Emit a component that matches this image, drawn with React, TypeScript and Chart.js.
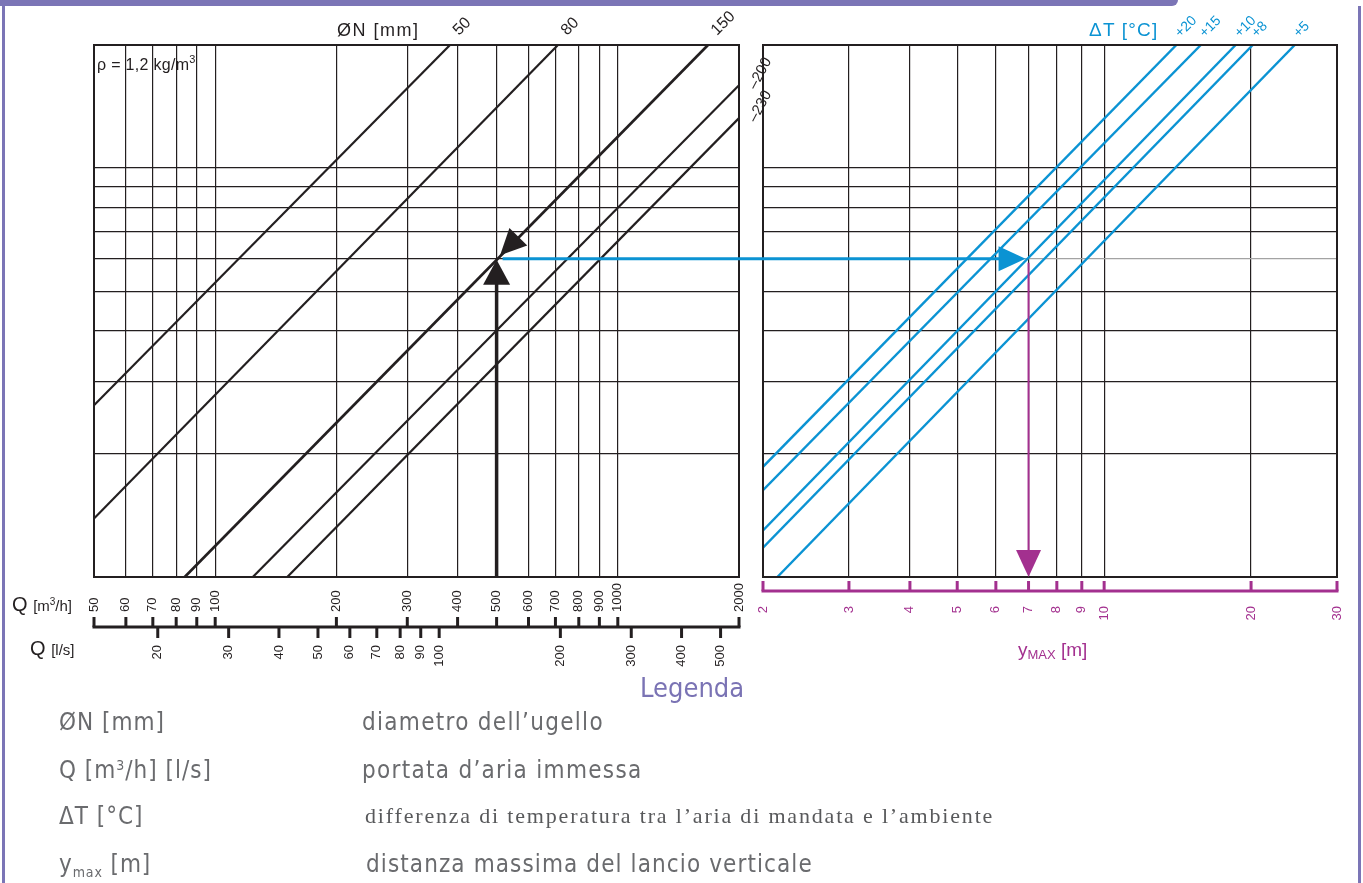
import React, { useEffect, useRef } from 'react';
import { Chart, registerables } from 'chart.js';

Chart.register(...registerables);

const INK = '#231f20';
const BLUE = '#0b93d3';
const MAGENTA = '#a3308f';
const PURPLE = '#7b75b6';
const GREY_TEXT = '#6a6b6e';

// ---- data ----
const qM3hTicks = [50, 60, 70, 80, 90, 100, 200, 300, 400, 500, 600, 700, 800, 900, 1000, 2000];
const qLsTicks = [20, 30, 40, 50, 60, 70, 80, 90, 100, 200, 300, 400, 500];
const yGridValues = [1, 2, 3, 4, 5, 6, 7, 8, 9, 10, 20];
const ymaxTicks = [2, 3, 4, 5, 6, 7, 8, 9, 10, 20, 30];

const diameterLabels = ['50', '80', '150', '200', '230'];
const diameterStartQ = [50, 50, 84, 124, 151];
const diameterStartY = [2.63, 1.39, 1, 1, 1];
const diameterEndQ = [383, 710, 1675, 2000, 2000];
const diameterEndY = [20, 20, 20, 15.95, 13.25];

const deltaTLabels = ['+20', '+15', '+10', '+8', '+5'];
const deltaTStartYmax = [2, 2, 2, 2, 2.14];
const deltaTStartY = [1.86, 1.63, 1.3, 1.18, 1];
const deltaTEndYmax = [14.06, 15.78, 18.6, 20.16, 24.58];
const deltaTEndY = [20, 20, 20, 20, 20];

const exampleQ = 500;
const exampleY = 6;
const exampleYmax = 7;

// ---- helpers ----
function drawRot(ctx: CanvasRenderingContext2D, text: string, x: number, y: number, angle: number, align: CanvasTextAlign, baseline: CanvasTextBaseline) {
  ctx.save();
  ctx.translate(x, y);
  ctx.rotate(angle);
  ctx.textAlign = align;
  ctx.textBaseline = baseline;
  ctx.fillText(text, 0, 0);
  ctx.restore();
}

function arrowHead(ctx: CanvasRenderingContext2D, tx: number, ty: number, dx: number, dy: number, len: number, half: number, color: string) {
  const n = Math.hypot(dx, dy);
  const ux = dx / n, uy = dy / n;
  const bx = tx - ux * len, by = ty - uy * len;
  ctx.beginPath();
  ctx.moveTo(tx, ty);
  ctx.lineTo(bx - uy * half, by + ux * half);
  ctx.lineTo(bx + uy * half, by - ux * half);
  ctx.closePath();
  ctx.fillStyle = color;
  ctx.fill();
}

function yScale(gridColor: (v: number) => string) {
  return {
    type: 'logarithmic' as const,
    min: 1,
    max: 20,
    afterBuildTicks: (s: any) => { s.ticks = yGridValues.map((v) => ({ value: v })); },
    afterFit: (s: any) => { s.width = 0; },
    ticks: { display: false },
    border: { display: false },
    grid: { color: (c: any) => gridColor(c.tick ? c.tick.value : 0), lineWidth: 1.2, drawTicks: false },
  };
}

const SANS = '"Liberation Sans", Arial, sans-serif';

const leftPlugin = {
  id: 'leftDecor',
  afterDatasetsDraw(chart: any) {
    const { ctx, chartArea: a } = chart;
    const x = chart.scales.x, y = chart.scales.y;
    ctx.save();
    // frame
    ctx.strokeStyle = INK;
    ctx.lineWidth = 2;
    ctx.strokeRect(a.left, a.top, a.right - a.left, a.bottom - a.top);

    // Q axis
    const axisY = a.bottom + 50;
    ctx.lineWidth = 3;
    ctx.beginPath();
    ctx.moveTo(x.getPixelForValue(qM3hTicks[0]) - 1.5, axisY);
    ctx.lineTo(x.getPixelForValue(qM3hTicks[qM3hTicks.length - 1]) + 1.5, axisY);
    ctx.stroke();
    ctx.fillStyle = INK;
    ctx.font = '13px ' + SANS;
    qM3hTicks.forEach((v) => {
      const px = x.getPixelForValue(v);
      ctx.beginPath();
      ctx.moveTo(px, axisY - 10);
      ctx.lineTo(px, axisY);
      ctx.stroke();
      drawRot(ctx, String(v), px, axisY - 15, -Math.PI / 2, 'left', 'middle');
    });
    qLsTicks.forEach((v) => {
      const px = x.getPixelForValue(v * 3.6);
      ctx.beginPath();
      ctx.moveTo(px, axisY);
      ctx.lineTo(px, axisY + 11);
      ctx.stroke();
      drawRot(ctx, String(v), px, axisY + 18, -Math.PI / 2, 'right', 'middle');
    });

    // diameter labels
    diameterLabels.forEach((lab, i) => {
      const ex = x.getPixelForValue(diameterEndQ[i]);
      const ey = y.getPixelForValue(diameterEndY[i]);
      if (diameterEndY[i] >= 20) {
        ctx.font = '16px ' + SANS;
        drawRot(ctx, lab, ex + 9, ey - 9, -Math.PI / 4, 'left', 'alphabetic');
      } else {
        ctx.font = '15px ' + SANS;
        drawRot(ctx, '\u2013' + lab, ex + 17, ey + 5, -1.08, 'left', 'alphabetic');
      }
    });

    // example: vertical arrow up to the ØN line
    const qx = x.getPixelForValue(exampleQ);
    const iy = y.getPixelForValue(exampleY);
    ctx.lineWidth = 3.5;
    ctx.beginPath();
    ctx.moveTo(qx, a.bottom);
    ctx.lineTo(qx, iy + 20);
    ctx.stroke();
    arrowHead(ctx, qx, iy + 1, 0, -1, 25, 13.5, INK);

    // diagonal arrow head on the 150 line
    const ci = 2;
    const sx = x.getPixelForValue(diameterStartQ[ci]);
    const sy = y.getPixelForValue(diameterStartY[ci]);
    const ex2 = x.getPixelForValue(diameterEndQ[ci]);
    const ey2 = y.getPixelForValue(diameterEndY[ci]);
    const dx = sx - ex2, dy = sy - ey2;
    const n = Math.hypot(dx, dy);
    arrowHead(ctx, qx - (dx / n) * 5, iy - (dy / n) * 5, dx, dy, 26, 12.5, INK);
    ctx.restore();
  },
};

function makeRightPlugin(getLeft: () => any) {
  return {
    id: 'rightDecor',
    afterDatasetsDraw(chart: any) {
      const { ctx, chartArea: a } = chart;
      const x = chart.scales.x, y = chart.scales.y;
      ctx.save();
      ctx.strokeStyle = INK;
      ctx.lineWidth = 2;
      ctx.strokeRect(a.left, a.top, a.right - a.left, a.bottom - a.top);

      // ymax axis
      const axisY = a.bottom + 14;
      ctx.strokeStyle = MAGENTA;
      ctx.fillStyle = MAGENTA;
      ctx.lineWidth = 3;
      ctx.beginPath();
      ctx.moveTo(x.getPixelForValue(ymaxTicks[0]) - 1.5, axisY);
      ctx.lineTo(x.getPixelForValue(ymaxTicks[ymaxTicks.length - 1]) + 1.5, axisY);
      ctx.stroke();
      ctx.font = '13px ' + SANS;
      ymaxTicks.forEach((v) => {
        const px = x.getPixelForValue(v);
        ctx.beginPath();
        ctx.moveTo(px, axisY - 10);
        ctx.lineTo(px, axisY);
        ctx.stroke();
        drawRot(ctx, String(v), px, axisY + 15, -Math.PI / 2, 'right', 'middle');
      });

      // ΔT labels
      ctx.fillStyle = BLUE;
      ctx.font = '14px ' + SANS;
      deltaTLabels.forEach((lab, i) => {
        const ex = x.getPixelForValue(deltaTEndYmax[i]);
        const ey = y.getPixelForValue(deltaTEndY[i]);
        drawRot(ctx, lab, ex + 4, ey - 7, -Math.PI / 4, 'left', 'alphabetic');
      });

      // blue horizontal arrow
      const left = getLeft();
      const iy = y.getPixelForValue(exampleY);
      const startX = left ? left.scales.x.getPixelForValue(exampleQ) + 6 : a.left;
      const tipX = x.getPixelForValue(exampleYmax) - 3;
      ctx.strokeStyle = BLUE;
      ctx.lineWidth = 3;
      ctx.beginPath();
      ctx.moveTo(startX, iy);
      ctx.lineTo(tipX - 20, iy);
      ctx.stroke();
      arrowHead(ctx, tipX, iy, 1, 0, 27, 12.5, BLUE);

      // magenta vertical arrow
      const mx = x.getPixelForValue(exampleYmax);
      ctx.strokeStyle = MAGENTA;
      ctx.lineWidth = 2;
      ctx.beginPath();
      ctx.moveTo(mx, iy + 4);
      ctx.lineTo(mx, a.bottom - 20);
      ctx.stroke();
      arrowHead(ctx, mx, a.bottom, 0, 1, 27, 12.5, MAGENTA);
      ctx.restore();
    },
  };
}

const T = ({ x, b, size, family, color, children, style }: any) => (
  <div
    style={{
      position: 'absolute',
      left: x,
      top: b - size * 0.85,
      fontSize: size,
      lineHeight: `${size}px`,
      fontFamily: family || SANS,
      color: color || INK,
      whiteSpace: 'nowrap',
      ...style,
    }}
  >
    {children}
  </div>
);

const sup = (size: number, up: number) => ({ fontSize: size, position: 'relative' as const, top: -up, lineHeight: 0 });

const NARROW = '"Liberation Sans Narrow", "DejaVu Sans Condensed", sans-serif';
const SERIF = '"Liberation Serif", "Times New Roman", serif';

export default function App() {
  const leftRef = useRef<HTMLCanvasElement>(null);
  const rightRef = useRef<HTMLCanvasElement>(null);

  useEffect(() => {
    const left = new Chart(leftRef.current as HTMLCanvasElement, {
      type: 'scatter',
      data: {
        datasets: diameterLabels.map((lab, i) => ({
          label: 'ØN ' + lab,
          data: [
            { x: diameterStartQ[i], y: diameterStartY[i] },
            { x: diameterEndQ[i], y: diameterEndY[i] },
          ],
          showLine: true,
          borderColor: INK,
          borderWidth: i === 2 ? 2.7 : 2.2,
          pointRadius: 0,
        })),
      },
      options: {
        responsive: false,
        animation: false,
        events: [],
        layout: { padding: { left: 94, top: 45, right: 1363 - 739, bottom: 883 - 577 } },
        plugins: { legend: { display: false }, tooltip: { enabled: false } },
        scales: {
          x: {
            type: 'logarithmic',
            min: 50,
            max: 2000,
            afterBuildTicks: (s: any) => { s.ticks = qM3hTicks.map((v) => ({ value: v })); },
            afterFit: (s: any) => { s.height = 0; },
            ticks: { display: false },
            border: { display: false },
            grid: { color: INK, lineWidth: 1.2, drawTicks: false },
          },
          y: yScale(() => INK) as any,
        },
      },
      plugins: [leftPlugin],
    } as any);

    const right = new Chart(rightRef.current as HTMLCanvasElement, {
      type: 'scatter',
      data: {
        datasets: deltaTLabels.map((lab, i) => ({
          label: 'ΔT ' + lab,
          data: [
            { x: deltaTStartYmax[i], y: deltaTStartY[i] },
            { x: deltaTEndYmax[i], y: deltaTEndY[i] },
          ],
          showLine: true,
          borderColor: BLUE,
          borderWidth: 2.4,
          pointRadius: 0,
        })),
      },
      options: {
        responsive: false,
        animation: false,
        events: [],
        layout: { padding: { left: 763, top: 45, right: 1363 - 1337, bottom: 883 - 577 } },
        plugins: { legend: { display: false }, tooltip: { enabled: false } },
        scales: {
          x: {
            type: 'logarithmic',
            min: 2,
            max: 30,
            afterBuildTicks: (s: any) => { s.ticks = ymaxTicks.map((v) => ({ value: v })); },
            afterFit: (s: any) => { s.height = 0; },
            ticks: { display: false },
            border: { display: false },
            grid: { color: INK, lineWidth: 1.2, drawTicks: false },
          },
          y: yScale((v) => (v === exampleY ? '#a3a3a3' : INK)) as any,
        },
      },
      plugins: [makeRightPlugin(() => left)],
    } as any);

    return () => {
      right.destroy();
      left.destroy();
    };
  }, []);

  return (
    <div style={{ position: 'fixed', left: 0, top: 0, width: 1363, height: 883, background: '#fff', overflow: 'hidden' }}>
      {/* frame */}
      <div style={{ position: 'absolute', left: 0, top: 0, width: 1178, height: 6, background: PURPLE, borderBottomRightRadius: 10 }} />
      <div style={{ position: 'absolute', left: 2, top: 0, width: 3, height: 883, background: PURPLE }} />
      <div style={{ position: 'absolute', left: 1358, top: 6, width: 3, height: 877, background: PURPLE }} />

      <canvas ref={leftRef} width={1363} height={883} style={{ position: 'absolute', left: 0, top: 0 }} />
      <canvas ref={rightRef} width={1363} height={883} style={{ position: 'absolute', left: 0, top: 0 }} />

      {/* chart titles */}
      <T x={337} b={36} size={18} style={{ letterSpacing: 1.5 }}>ØN [mm]</T>
      <T x={97} b={71} size={16} style={{ letterSpacing: 0.3 }}>
        ρ = 1,2 kg/m<span style={sup(11, 7)}>3</span>
      </T>
      <T x={12} b={611} size={20}>
        Q <span style={{ fontSize: 15 }}>[m<span style={sup(10, 6)}>3</span>/h]</span>
      </T>
      <T x={30} b={655} size={20}>
        Q <span style={{ fontSize: 15 }}>[l/s]</span>
      </T>
      <T x={1089} b={36} size={19} color={BLUE} style={{ letterSpacing: 1.2 }}>ΔT [°C]</T>
      <T x={1018} b={656} size={19} color={MAGENTA}>
        y<span style={{ fontSize: 13, position: 'relative', top: 3 }}>MAX</span> [m]
      </T>

      {/* legend */}
      <T x={640} b={697} size={27} family={NARROW} color={'#7a73b4'}>Legenda</T>

      <T x={59} b={730} size={24} family={NARROW} color={GREY_TEXT} style={{ letterSpacing: 1 }}>ØN [mm]</T>
      <T x={362} b={730} size={24} family={NARROW} color={GREY_TEXT} style={{ letterSpacing: 1.3 }}>diametro dell’ugello</T>

      <T x={59} b={778} size={24} family={NARROW} color={GREY_TEXT} style={{ letterSpacing: 1 }}>
        Q [m<span style={sup(14, 8)}>3</span>/h] [l/s]
      </T>
      <T x={362} b={778} size={24} family={NARROW} color={GREY_TEXT} style={{ letterSpacing: 1.3 }}>portata d’aria immessa</T>

      <T x={59} b={824} size={24} family={NARROW} color={GREY_TEXT} style={{ letterSpacing: 1 }}>ΔT [°C]</T>
      <T x={365} b={824} size={22} family={SERIF} color={'#58595b'} style={{ letterSpacing: 1.82 }}>differenza di temperatura tra l’aria di mandata e l’ambiente</T>

      <T x={59} b={872} size={24} family={NARROW} color={GREY_TEXT} style={{ letterSpacing: 0.9 }}>
        y<span style={{ fontSize: 14, position: 'relative', top: 5 }}>max</span> [m]
      </T>
      <T x={366} b={872} size={24} family={NARROW} color={GREY_TEXT} style={{ letterSpacing: 1.1 }}>distanza massima del lancio verticale</T>
    </div>
  );
}
